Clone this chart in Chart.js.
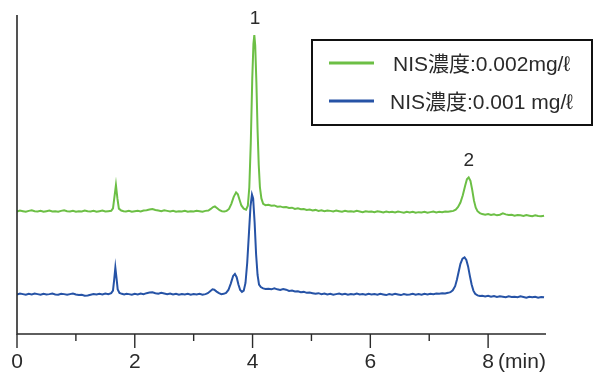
<!DOCTYPE html>
<html>
<head>
<meta charset="utf-8">
<script src="https://cdn.jsdelivr.net/npm/chart.js@4"></script>
<style>
  html, body { margin: 0; padding: 0; background: #fff; }
  #wrap { width: 595px; height: 372px; }
</style>
</head>
<body>
<div id="wrap"><canvas id="chrom" width="595" height="372"></canvas></div>
<script>
"use strict";

// retention time (min) and detector signal (arbitrary units, 0-100)
var greenTrace = [
  [0.00,38.4],[0.05,38.7],[0.10,38.5],[0.15,38.3],[0.20,38.6],[0.25,38.8],[0.30,38.5],[0.35,38.4],
  [0.40,38.6],[0.45,38.3],[0.50,38.5],[0.55,38.7],[0.60,38.4],[0.65,38.5],[0.70,38.3],[0.75,38.6],
  [0.80,38.8],[0.85,38.5],[0.90,38.4],[0.95,38.6],[1.00,38.3],[1.05,38.5],[1.10,38.4],[1.15,38.7],
  [1.20,38.5],[1.25,38.4],[1.30,38.6],[1.35,38.3],[1.40,38.5],[1.45,38.7],[1.50,38.4],[1.55,38.5],
  [1.60,38.6],[1.63,39.4],[1.655,43.0],[1.68,46.7],[1.705,42.5],[1.73,39.3],[1.77,38.7],[1.81,38.5],
  [1.85,38.4],[1.90,38.6],[1.95,38.3],[2.00,38.5],[2.05,38.6],[2.10,38.4],[2.15,38.7],[2.20,38.8],
  [2.25,39.0],[2.30,39.2],[2.35,38.9],[2.40,38.7],[2.45,38.5],[2.50,38.8],[2.55,38.6],[2.60,38.4],
  [2.65,38.6],[2.70,38.3],[2.75,38.5],[2.80,38.4],[2.85,38.6],[2.90,38.3],[2.95,38.5],[3.00,38.4],
  [3.05,38.6],[3.10,38.5],[3.15,38.3],[3.20,38.6],[3.25,38.7],[3.29,39.2],[3.33,39.8],[3.36,40.0],
  [3.40,39.4],[3.44,38.8],[3.48,38.5],[3.52,38.4],[3.56,38.6],[3.60,39.2],[3.64,40.8],[3.68,43.0],
  [3.72,44.4],[3.75,43.8],[3.78,42.0],[3.81,40.3],[3.85,39.3],[3.89,39.0],[3.92,40.2],[3.945,46.0],
  [3.97,60.0],[3.995,80.0],[4.015,91.0],[4.03,93.7],[4.045,90.5],[4.065,79.0],[4.085,64.0],[4.105,53.0],
  [4.125,46.0],[4.15,42.5],[4.18,40.8],[4.22,40.4],[4.27,40.5],[4.32,40.2],[4.37,40.3],[4.42,39.9],
  [4.47,40.0],[4.52,39.7],[4.57,39.8],[4.62,39.5],[4.67,39.6],[4.72,39.2],[4.77,39.4],[4.82,39.1],
  [4.87,39.2],[4.92,38.9],[4.97,39.0],[5.02,38.7],[5.07,38.9],[5.12,38.6],[5.17,38.8],[5.22,38.5],
  [5.27,38.7],[5.32,38.6],[5.37,38.4],[5.42,38.7],[5.47,38.5],[5.52,38.3],[5.57,38.6],[5.62,38.4],
  [5.67,38.5],[5.72,38.3],[5.77,38.6],[5.82,38.4],[5.87,38.2],[5.92,38.5],[5.97,38.3],[6.02,38.4],
  [6.07,38.2],[6.12,38.5],[6.17,38.3],[6.22,38.1],[6.27,38.4],[6.32,38.2],[6.37,38.3],[6.42,38.1],
  [6.47,38.4],[6.52,38.2],[6.57,38.0],[6.62,38.3],[6.67,38.1],[6.72,38.3],[6.77,38.0],[6.82,38.2],
  [6.87,38.1],[6.92,38.3],[6.97,38.0],[7.02,38.2],[7.07,38.4],[7.12,38.1],[7.17,38.3],[7.22,38.2],
  [7.27,38.4],[7.32,38.3],[7.37,38.5],[7.41,38.6],[7.45,39.0],[7.49,39.8],[7.53,41.2],[7.57,43.5],
  [7.61,46.5],[7.64,48.5],[7.67,49.1],[7.70,48.0],[7.73,45.2],[7.76,41.8],[7.79,39.6],[7.82,38.5],
  [7.86,37.9],[7.90,37.6],[7.95,37.4],[8.00,37.6],[8.05,37.3],[8.10,37.5],[8.15,37.2],[8.20,37.4],
  [8.25,37.8],[8.30,37.5],[8.35,37.3],[8.40,37.4],[8.45,37.1],[8.50,37.3],[8.55,37.2],[8.60,37.0],
  [8.65,37.3],[8.70,37.1],[8.75,36.9],[8.80,37.2],[8.85,37.0],[8.90,36.9],[8.95,37.1]
];

var blueTrace = [
  [0.00,12.4],[0.05,12.7],[0.10,12.5],[0.15,12.3],[0.20,12.6],[0.25,12.4],[0.30,12.7],[0.35,12.5],
  [0.40,12.3],[0.45,12.6],[0.50,12.4],[0.55,12.5],[0.60,12.7],[0.65,12.4],[0.70,12.3],[0.75,12.6],
  [0.80,12.5],[0.85,12.3],[0.90,12.5],[0.95,12.7],[1.00,12.4],[1.05,12.2],[1.10,12.3],[1.15,12.0],
  [1.20,12.1],[1.25,12.3],[1.30,12.5],[1.35,12.4],[1.40,12.6],[1.45,12.4],[1.50,12.7],[1.55,12.5],
  [1.60,12.8],[1.63,13.6],[1.65,17.0],[1.67,20.8],[1.69,17.5],[1.71,14.0],[1.74,12.9],[1.78,12.6],
  [1.82,12.4],[1.86,12.6],[1.90,12.5],[1.95,12.3],[2.00,12.6],[2.05,12.4],[2.10,12.7],[2.15,12.5],
  [2.20,12.8],[2.25,13.0],[2.30,13.1],[2.35,12.8],[2.40,12.6],[2.45,12.9],[2.50,12.7],[2.55,12.5],
  [2.60,12.7],[2.65,12.4],[2.70,12.6],[2.75,12.3],[2.80,12.5],[2.85,12.4],[2.90,12.6],[2.95,12.3],
  [3.00,12.5],[3.05,12.4],[3.10,12.6],[3.15,12.3],[3.20,12.5],[3.24,12.8],[3.28,13.4],[3.32,14.0],
  [3.35,13.9],[3.39,13.3],[3.43,12.8],[3.47,12.5],[3.51,12.6],[3.55,12.9],[3.59,13.8],[3.63,15.8],
  [3.67,18.2],[3.70,18.8],[3.73,17.8],[3.76,15.5],[3.79,13.8],[3.82,13.2],[3.85,13.6],[3.88,16.0],
  [3.91,22.5],[3.94,32.0],[3.965,40.0],[3.99,43.7],[4.01,42.5],[4.035,35.0],[4.06,25.0],[4.085,18.5],
  [4.11,15.5],[4.14,14.7],[4.18,14.3],[4.22,14.1],[4.27,14.2],[4.32,14.0],[4.37,14.3],[4.42,14.0],
  [4.47,13.8],[4.52,14.1],[4.57,13.9],[4.62,13.5],[4.67,13.6],[4.72,13.3],[4.77,13.4],[4.82,13.1],
  [4.87,13.2],[4.92,12.9],[4.97,13.0],[5.02,12.8],[5.07,12.6],[5.12,12.8],[5.17,12.5],[5.22,12.7],
  [5.27,12.4],[5.32,12.6],[5.37,12.3],[5.42,12.5],[5.47,12.7],[5.52,12.4],[5.57,12.6],[5.62,12.3],
  [5.67,12.5],[5.72,12.4],[5.77,12.7],[5.82,12.4],[5.87,12.5],[5.92,12.3],[5.97,12.6],[6.02,12.4],
  [6.07,12.5],[6.12,12.3],[6.17,12.6],[6.22,12.4],[6.27,12.2],[6.32,12.5],[6.37,12.3],[6.42,12.6],
  [6.47,12.4],[6.52,12.2],[6.57,12.5],[6.62,12.3],[6.67,12.4],[6.72,12.6],[6.77,12.3],[6.82,12.5],
  [6.87,12.3],[6.92,12.6],[6.97,12.4],[7.02,12.6],[7.07,12.5],[7.12,12.7],[7.17,12.6],[7.22,12.8],
  [7.27,12.7],[7.32,12.9],[7.36,13.1],[7.40,13.7],[7.44,15.0],[7.47,17.0],[7.50,19.5],[7.53,22.0],
  [7.565,23.6],[7.60,24.0],[7.63,23.2],[7.66,21.2],[7.69,18.2],[7.72,15.5],[7.75,13.6],[7.78,12.6],
  [7.82,12.1],[7.86,11.9],[7.90,12.0],[7.95,11.8],[8.00,12.0],[8.05,11.7],[8.10,11.9],[8.15,11.6],
  [8.20,11.8],[8.25,11.7],[8.30,11.5],[8.35,11.8],[8.40,11.6],[8.45,11.7],[8.50,11.5],[8.55,11.8],
  [8.60,11.6],[8.65,11.4],[8.70,11.7],[8.75,11.5],[8.80,11.7],[8.85,11.4],[8.90,11.6],[8.95,11.5]
];

var seriesNames = ["NIS濃度:0.002mg/ℓ", "NIS濃度:0.001 mg/ℓ"];
var majorTicks = [0, 2, 4, 6, 8];
var minorTicks = [1, 3, 5, 7];
var xUnit = "(min)";
// peak numbers: retention time and signal level where the number sits
var peakLabels = [
  { text: "1", t: 4.04, v: 98.7 },
  { text: "2", t: 7.67, v: 54.3 }
];

var GREEN = "#6cbf45";
var BLUE = "#2653a6";
var INK = "#2a2a2a";
var FONT = "'Liberation Sans', Arial, 'Noto Sans CJK JP', sans-serif";

function toPoints(trace) {
  return trace.map(function (p) { return { x: p[0], y: p[1] }; });
}

// axes, ticks and tick labels
var axesPlugin = {
  id: "axes",
  afterDatasetsDraw: function (chart) {
    var ctx = chart.ctx;
    var xs = chart.scales.x;
    var a = chart.chartArea;
    ctx.save();
    ctx.strokeStyle = INK;
    ctx.lineWidth = 1.6;
    ctx.beginPath();
    ctx.moveTo(a.left, a.top);
    ctx.lineTo(a.left, a.bottom);
    ctx.lineTo(a.right - 1, a.bottom);
    ctx.stroke();

    ctx.lineWidth = 1.4;
    majorTicks.forEach(function (t) {
      var x = xs.getPixelForValue(t);
      ctx.beginPath();
      ctx.moveTo(x, a.bottom);
      ctx.lineTo(x, a.bottom + 14);
      ctx.stroke();
    });
    minorTicks.forEach(function (t) {
      var x = xs.getPixelForValue(t);
      ctx.beginPath();
      ctx.moveTo(x, a.bottom);
      ctx.lineTo(x, a.bottom + 7);
      ctx.stroke();
    });

    ctx.fillStyle = INK;
    ctx.font = "21px " + FONT;
    ctx.textAlign = "center";
    ctx.textBaseline = "middle";
    majorTicks.forEach(function (t) {
      ctx.fillText(String(t), xs.getPixelForValue(t), a.bottom + 28);
    });
    ctx.textAlign = "left";
    ctx.fillText(xUnit, xs.getPixelForValue(8) + 10, a.bottom + 28);
    ctx.restore();
  }
};

// peak numbers
var peakPlugin = {
  id: "peaks",
  afterDatasetsDraw: function (chart) {
    var ctx = chart.ctx;
    ctx.save();
    ctx.fillStyle = INK;
    ctx.font = "19px " + FONT;
    ctx.textAlign = "center";
    ctx.textBaseline = "middle";
    peakLabels.forEach(function (p) {
      ctx.fillText(p.text, chart.scales.x.getPixelForValue(p.t), chart.scales.y.getPixelForValue(p.v));
    });
    ctx.restore();
  }
};

// boxed legend, top right
var legendBox = {
  id: "legendBox",
  afterDraw: function (chart) {
    var ctx = chart.ctx;
    ctx.save();
    ctx.strokeStyle = "#111";
    ctx.lineWidth = 2;
    ctx.strokeRect(312, 40, 280, 85);

    var rows = [
      { y: 64, color: GREEN, name: seriesNames[0], x: 393 },
      { y: 102, color: BLUE, name: seriesNames[1], x: 390 }
    ];
    ctx.font = "21px " + FONT;
    ctx.textBaseline = "middle";
    ctx.textAlign = "left";
    rows.forEach(function (r) {
      ctx.strokeStyle = r.color;
      ctx.lineWidth = 3;
      ctx.beginPath();
      ctx.moveTo(329, r.y - 1);
      ctx.lineTo(374, r.y - 1);
      ctx.stroke();
      ctx.fillStyle = INK;
      ctx.fillText(r.name, r.x, r.y + 1);
    });
    ctx.restore();
  }
};

var chrom = new Chart(document.getElementById("chrom").getContext("2d"), {
  type: "line",
  data: {
    datasets: [
      {
        label: seriesNames[0],
        data: toPoints(greenTrace),
        borderColor: GREEN,
        borderWidth: 2,
        pointRadius: 0,
        tension: 0,
        fill: false
      },
      {
        label: seriesNames[1],
        data: toPoints(blueTrace),
        borderColor: BLUE,
        borderWidth: 2,
        pointRadius: 0,
        tension: 0,
        fill: false
      }
    ]
  },
  options: {
    responsive: false,
    animation: false,
    events: [],
    layout: { padding: { left: 17, right: 48, top: 15, bottom: 38 } },
    scales: {
      x: { type: "linear", min: 0, max: 9, display: false },
      y: { min: 0, max: 100, display: false }
    },
    plugins: {
      legend: { display: false },
      tooltip: { enabled: false }
    }
  },
  plugins: [axesPlugin, peakPlugin, legendBox]
});
</script>
</body>
</html>
